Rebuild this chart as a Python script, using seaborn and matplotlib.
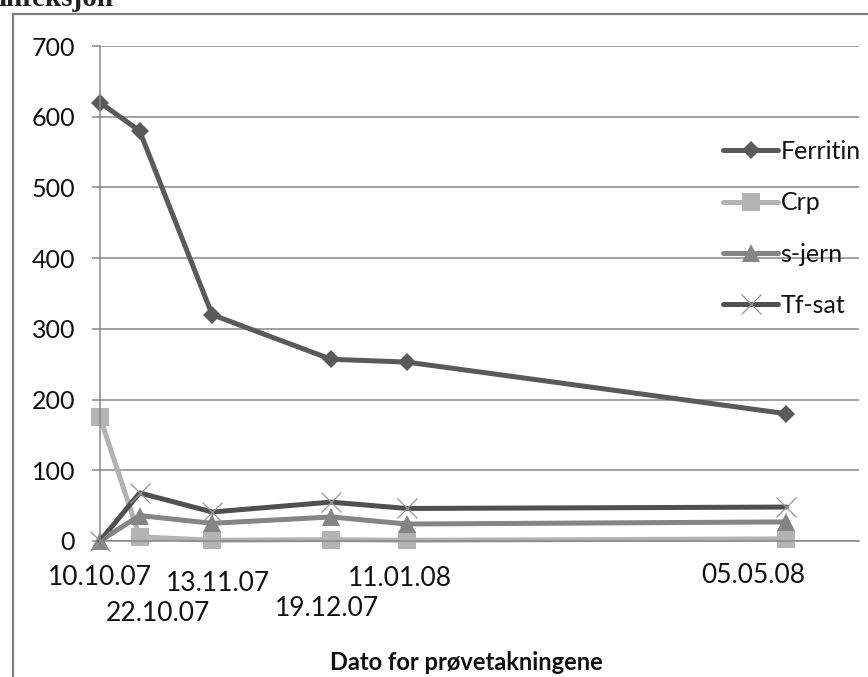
import matplotlib
matplotlib.use("Agg")
import matplotlib.pyplot as plt
import matplotlib.transforms as mtransforms
from matplotlib.patches import Rectangle
import pandas as pd
import seaborn as sns

# Sampling dates and measured values
dates = ["10.10.07", "22.10.07", "13.11.07", "19.12.07", "11.01.08", "05.05.08"]
ferritin = [620, 580, 320, 257, 253, 180]
crp = [175, 6, 1, 2, 1, 3]
s_jern = [0, 36, 25, 34, 24, 27]
tf_sat = [0, 68, 41, 55, 46, 48]
series_names = ["Ferritin", "Crp", "s-jern", "Tf-sat"]
y_ticks = [0, 100, 200, 300, 400, 500, 600, 700]

x = pd.to_datetime(dates, format="%d.%m.%y")
values = {"Ferritin": ferritin, "Crp": crp, "s-jern": s_jern, "Tf-sat": tf_sat}

sns.set_theme(style="white")
plt.rcParams["font.family"] = ["Lato", "DejaVu Sans"]

DPI = 100
fig = plt.figure(figsize=(8.68, 6.77), dpi=DPI)
W, H = 868, 677
ax = fig.add_axes([100 / W, 1 - 541 / H, (859 - 100) / W, (541 - 46) / H])

styles = {
    "Ferritin": dict(color="#5a5a5a", marker="D", markersize=9, mfc="#5a5a5a", mec="#5a5a5a", mew=0),
    "Crp": dict(color="#b3b3b3", marker="s", markersize=12.5, mfc="#b3b3b3", mec="#b3b3b3", mew=0),
    "s-jern": dict(color="#858585", marker="^", markersize=13, mfc="#858585", mec="#858585", mew=0),
    "Tf-sat": dict(color="#505050", marker="x", markersize=14, mfc="none", mec="#959595", mew=0.9),
}

for name in series_names:
    st = styles[name]
    sns.lineplot(x=x, y=values[name], ax=ax, label=name, color=st["color"],
                 marker=st["marker"], markersize=st["markersize"],
                 markerfacecolor=st["mfc"], markeredgecolor=st["mec"],
                 markeredgewidth=st["mew"], linewidth=3.6, clip_on=False,
                 solid_capstyle="round", solid_joinstyle="round")

# axes limits and grid
ax.set_xlim(x[0], x[0] + pd.Timedelta(days=230))
ax.set_ylim(0, 700)
ax.set_yticks(y_ticks)
ax.set_yticklabels([str(v) for v in y_ticks])
ax.yaxis.grid(True, color="#878787", linewidth=1.1)
ax.xaxis.grid(False)
ax.set_axisbelow(True)
for side in ["top", "right"]:
    ax.spines[side].set_visible(False)
for side in ["left", "bottom"]:
    ax.spines[side].set_color("#878787")
    ax.spines[side].set_linewidth(1.1)

ax.tick_params(axis="y", which="major", left=True, length=6, width=1.1,
               color="#878787", pad=12, labelsize=18, labelcolor="#111111")
ax.tick_params(axis="x", which="major", bottom=False, length=0, pad=17,
               labelsize=19, labelcolor="#111111")

ax.set_xticks(x)
ax.set_xticklabels(dates)
# staggered date labels (pixel offsets dx, dy)
label_shift = [(0, 0), (18, -36), (6, -6), (-4, -31), (-7, -1), (-33, 2)]
for lab, (dx, dy) in zip(ax.get_xticklabels(), label_shift):
    lab.set_transform(lab.get_transform() +
                      mtransforms.ScaledTranslation(dx / DPI, dy / DPI, fig.dpi_scale_trans))

ax.set_xlabel("")
ax.set_ylabel("")
fig.text(466 / W, 1 - 662 / H, "Dato for prøvetakningene", ha="center", va="center",
         fontsize=17, fontweight="bold", color="#111111")

# legend
leg = ax.legend(loc="upper left", bbox_to_anchor=(723 / W, 1 - 140 / H),
                bbox_transform=fig.transFigure, frameon=False, fontsize=18,
                handlelength=2.2, handletextpad=0.1, labelspacing=1.13,
                borderpad=0, borderaxespad=0)
for t in leg.get_texts():
    t.set_color("#111111")

# chart frame and cut-off heading
fig.add_artist(Rectangle((13 / W, -0.2), 1.2, 1.2 - 14 / H, transform=fig.transFigure,
                         fill=False, edgecolor="#7f7f7f", linewidth=1.6))
fig.text(-2 / W, 1 - 6 / H, "infeksjon", ha="left", va="baseline", fontsize=21,
         fontweight="bold", family=["Liberation Serif", "DejaVu Serif"], color="#222222")

fig.savefig("out.png", dpi=DPI)
